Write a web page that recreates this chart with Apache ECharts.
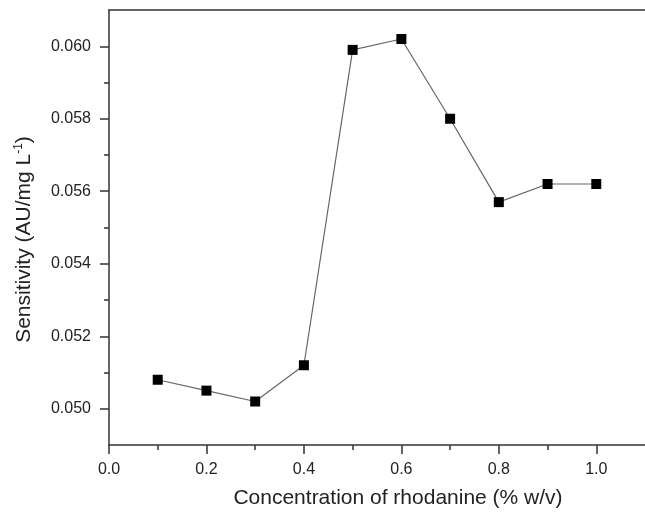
<!DOCTYPE html>
<html>
<head>
<meta charset="utf-8">
<script src="https://cdn.jsdelivr.net/npm/echarts@6/dist/echarts.min.js"></script>
<style>
html,body{margin:0;padding:0;background:#fff;}
#chart{width:645px;height:515px;}
</style>
</head>
<body>
<div id="chart"></div>
<script>
// Data
var concentration = [0.1, 0.2, 0.3, 0.4, 0.5, 0.6, 0.7, 0.8, 0.9, 1.0];
var sensitivity = [0.0508, 0.0505, 0.0502, 0.0512, 0.0599, 0.0602, 0.0580, 0.0557, 0.0562, 0.0562];
// Tick values
var xMajorTicks = [0.0, 0.2, 0.4, 0.6, 0.8, 1.0];
var xMinorTicks = [0.1, 0.3, 0.5, 0.7, 0.9];
var yMajorTicks = [0.050, 0.052, 0.054, 0.056, 0.058, 0.060];
var yMinorTicks = [0.051, 0.053, 0.055, 0.057, 0.059];

var xTitle = 'Concentration of rhodanine (% w/v)';
var yTitle = 'Sensitivity (AU/mg L{sup|-1})';

var FONT = '"Liberation Sans", Arial, sans-serif';
var AX = '#333';

var chart = echarts.init(document.getElementById('chart'), null, {renderer: 'canvas'});
var pts = concentration.map(function (c, i) { return [c, sensitivity[i]]; });

chart.setOption({
  animation: false,
  backgroundColor: '#fff',
  grid: {left: 109, right: -2, top: 10, bottom: 70, show: false},
  xAxis: [{
    type: 'value', min: 0, max: 1.1, position: 'bottom',
    name: xTitle, nameLocation: 'middle', nameGap: 43,
    nameTextStyle: {fontFamily: FONT, fontSize: 21, color: '#222', padding: [0, 0, 0, 42]},
    axisLine: {show: true, onZero: false, lineStyle: {color: AX, width: 1.5}},
    axisTick: {show: true, inside: false, length: 9, customValues: xMajorTicks, lineStyle: {color: AX, width: 1.5}},
    axisLabel: {show: true, margin: 17, fontFamily: FONT, fontSize: 16, color: '#222', customValues: xMajorTicks,
      formatter: function (v) { return v.toFixed(1); }},
    splitLine: {show: false}
  }, {
    type: 'value', min: 0, max: 1.1, position: 'bottom',
    axisLine: {show: false, onZero: false},
    axisTick: {show: true, inside: false, length: 5, customValues: xMinorTicks, lineStyle: {color: AX, width: 1.5}},
    axisLabel: {show: false},
    splitLine: {show: false}
  }, {
    type: 'value', min: 0, max: 1.1, position: 'top',
    axisLine: {show: true, onZero: false, lineStyle: {color: AX, width: 1.5}},
    axisTick: {show: false},
    axisLabel: {show: false},
    splitLine: {show: false}
  }],
  yAxis: [{
    type: 'value', min: 0.049, max: 0.061, position: 'left',
    name: yTitle, nameLocation: 'middle', nameGap: 74, nameRotate: 90,
    nameTextStyle: {fontFamily: FONT, fontSize: 21, color: '#222', padding: [0, 24, 0, 0],
      rich: {sup: {fontFamily: FONT, fontSize: 12, color: '#222', verticalAlign: 'top', padding: [0, 0, 10, 0]}}},
    axisLine: {show: true, onZero: false, lineStyle: {color: AX, width: 1.5}},
    axisTick: {show: true, inside: false, length: 9, customValues: yMajorTicks, lineStyle: {color: AX, width: 1.5}},
    axisLabel: {show: true, margin: 18, fontFamily: FONT, fontSize: 16, color: '#222', customValues: yMajorTicks,
      formatter: function (v) { return v.toFixed(3); }},
    splitLine: {show: false}
  }, {
    type: 'value', min: 0.049, max: 0.061, position: 'left',
    axisLine: {show: false, onZero: false},
    axisTick: {show: true, inside: false, length: 5, customValues: yMinorTicks, lineStyle: {color: AX, width: 1.5}},
    axisLabel: {show: false},
    splitLine: {show: false}
  }],
  series: [{
    type: 'line',
    xAxisIndex: 0, yAxisIndex: 0,
    data: pts,
    symbol: 'rect', symbolSize: 10,
    itemStyle: {color: '#000'},
    lineStyle: {color: '#666', width: 1.2},
    z: 5
  }]
});
</script>
</body>
</html>
